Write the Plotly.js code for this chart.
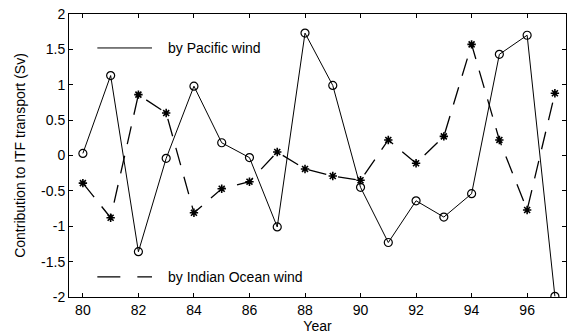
<!DOCTYPE html>
<html>
<head>
<meta charset="utf-8">
<script src="https://cdn.plot.ly/plotly-3.0.1.min.js"></script>
<style>html,body{margin:0;padding:0;background:#fff;}#chart{width:568px;height:335px;}</style>
</head>
<body>
<div id="chart"></div>
<script>
const years = [80,81,82,83,84,85,86,87,88,89,90,91,92,93,94,95,96,97];
const pacific = [0.03,1.13,-1.36,-0.04,0.98,0.18,-0.03,-1.01,1.73,0.99,-0.45,-1.23,-0.64,-0.87,-0.54,1.43,1.70,-1.99];
const indian = [-0.39,-0.88,0.86,0.60,-0.81,-0.47,-0.37,0.05,-0.19,-0.29,-0.35,0.22,-0.11,0.27,1.57,0.22,-0.77,0.88];
const xTicks = [80,82,84,86,88,90,92,94,96];
const xTickText = ['80','82','84','86','88','90','92','94','96'];
const yTicks = [-2,-1.5,-1,-0.5,0,0.5,1,1.5,2];
const yTickText = ['-2','-1.5','-1','-0.5','0','0.5','1','1.5','2'];
const legendLabels = ['by Pacific wind','by Indian Ocean wind'];

const traces = [
  {x: years, y: pacific, type:'scatter', mode:'lines+markers', name: legendLabels[0],
   line:{color:'#000', width:1},
   marker:{symbol:'circle-open', size:8, color:'#000', line:{width:1.2, color:'#000'}}},
  {x: years, y: indian, type:'scatter', mode:'lines+markers', name: legendLabels[1],
   line:{color:'#000', width:1.3, dash:'18px,12px'},
   marker:{symbol:'asterisk-open', size:7, color:'#000', line:{width:1.6, color:'#000'}}}
];

const font = {family:'Liberation Sans, Arial, sans-serif', size:14, color:'#000'};
const layout = {
  width:568, height:335,
  margin:{l:69, r:2, t:14, b:38},
  paper_bgcolor:'#fff', plot_bgcolor:'#fff',
  showlegend:false,
  font: font,
  xaxis:{range:[79.5,97.4], tickvals:xTicks, ticktext:xTickText, ticks:'inside', ticklen:4,
    tickcolor:'#000', showline:true, linecolor:'#000', linewidth:1, mirror:'ticks',
    showgrid:false, zeroline:false, tickfont:{size:14},
    title:{text:'Year', font:{size:14}, standoff:3}},
  yaxis:{range:[-2,2], tickvals:yTicks, ticktext:yTickText, ticks:'inside', ticklen:4,
    tickcolor:'#000', showline:true, linecolor:'#000', linewidth:1, mirror:'ticks',
    showgrid:false, zeroline:false, tickfont:{size:14},
    title:{text:'Contribution to ITF transport (Sv)', font:{size:14}, standoff:12}},
  shapes:[
    {type:'line', xref:'paper', yref:'paper', x0:0.057, x1:0.167, y0:0.88, y1:0.88,
     line:{color:'#000', width:1}},
    {type:'line', xref:'paper', yref:'paper', x0:0.057, x1:0.167, y0:0.071, y1:0.071,
     line:{color:'#000', width:1.3, dash:'23px,17px'}}
  ],
  annotations:[
    {xref:'paper', yref:'paper', x:0.195, y:0.88, xanchor:'left', yanchor:'middle',
     text:legendLabels[0], showarrow:false, font:{size:14}},
    {xref:'paper', yref:'paper', x:0.195, y:0.071, xanchor:'left', yanchor:'middle',
     text:legendLabels[1], showarrow:false, font:{size:14}}
  ]
};
Plotly.newPlot('chart', traces, layout, {displayModeBar:false, staticPlot:true});
</script>
</body>
</html>
